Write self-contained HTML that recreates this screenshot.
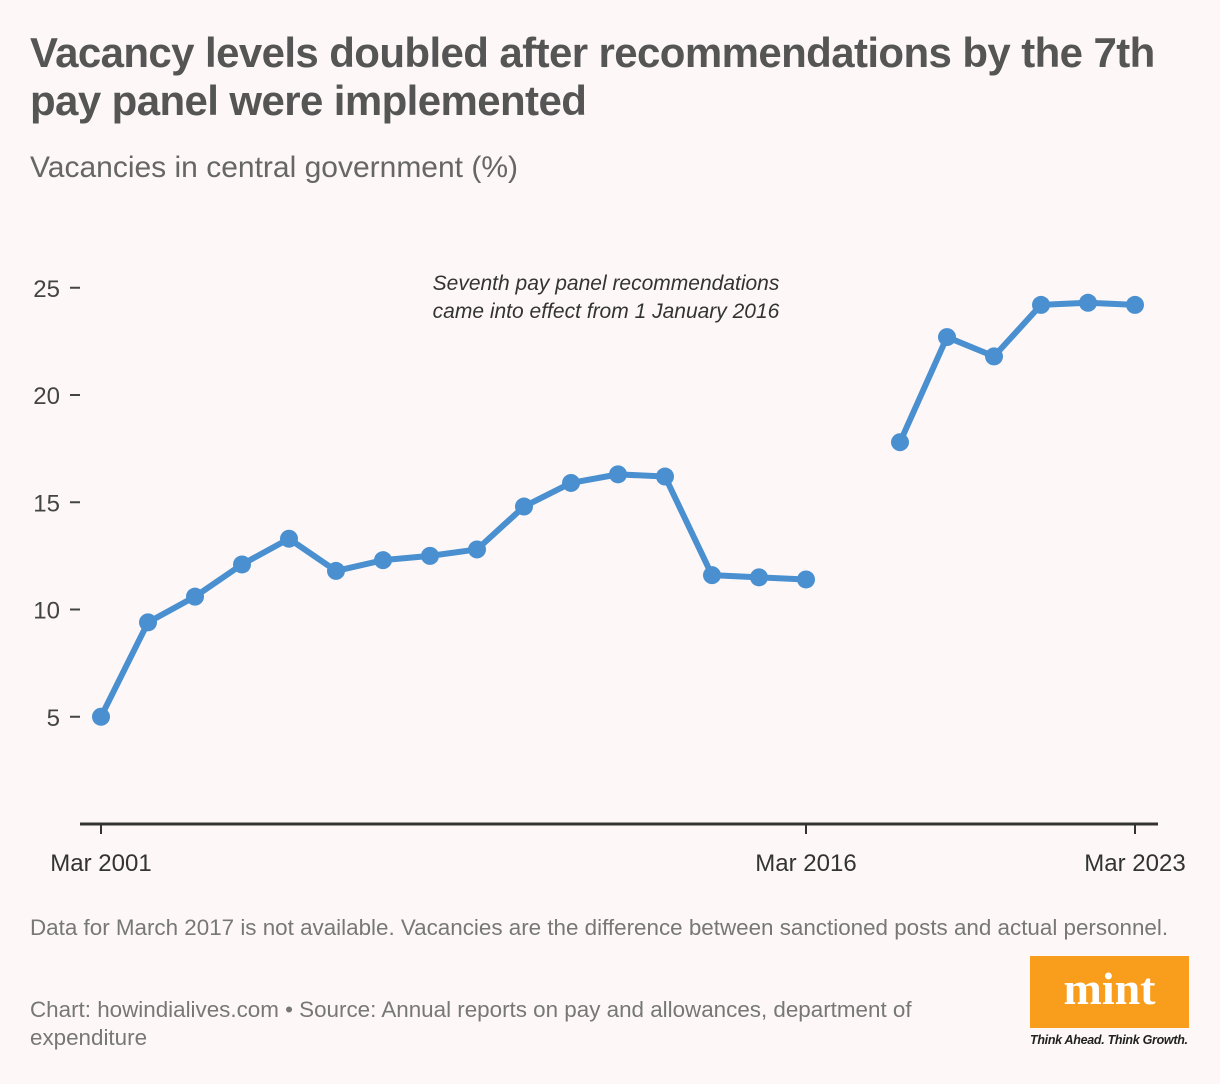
<!DOCTYPE html>
<html><head><meta charset="utf-8"><style>
body{margin:0;width:1220px;height:1084px;background:#fdf8f7;font-family:"Liberation Sans",sans-serif;position:relative;overflow:hidden}
.t{position:absolute;left:30px;top:29px;font-size:42px;font-weight:bold;color:#555;line-height:48px;letter-spacing:-0.6px;width:1170px}
.s{position:absolute;left:30px;top:151px;font-size:30px;color:#666}
.n{position:absolute;left:30px;top:915px;font-size:22.4px;color:#777}
.c{position:absolute;left:30px;top:996px;font-size:22.4px;color:#777;line-height:28px;width:910px}
</style></head><body>
<div class="t">Vacancy levels doubled after recommendations by the 7th pay panel were implemented</div>
<div class="s">Vacancies in central government (%)</div>
<svg id="ch" width="1220" height="900" style="position:absolute;left:0;top:0"></svg>
<div class="n">Data for March 2017 is not available. Vacancies are the difference between sanctioned posts and actual personnel.</div>
<div class="c">Chart: howindialives.com • Source: Annual reports on pay and allowances, department of expenditure</div>
<div style="position:absolute;left:1030px;top:956px;width:159px;height:72px;background:#f99d1c;color:#fff;font-family:'Liberation Serif',serif;font-weight:bold;font-size:46px;text-align:center;line-height:66px">mint</div>
<div style="position:absolute;left:1030px;top:1033px;font-size:12.5px;font-style:italic;font-weight:bold;color:#222;letter-spacing:-0.3px">Think Ahead. Think Growth.</div>
<script>
const years=[2001,2002,2003,2004,2005,2006,2007,2008,2009,2010,2011,2012,2013,2014,2015,2016,2017,2018,2019,2020,2021,2022,2023];
const values=[5.0,9.4,10.6,12.1,13.3,11.8,12.3,12.5,12.8,14.8,15.9,16.3,16.2,11.6,11.5,11.4,null,17.8,22.7,21.8,24.2,24.3,24.2];
const yTicks=[5,10,15,20,25];
const xTickYears=[2001,2016,2023];
const xTickLabels=["Mar 2001","Mar 2016","Mar 2023"];
const svg=document.getElementById('ch');const NS='http://www.w3.org/2000/svg';
const X=y=>101+(y-2001)*47;const Y=v=>824-v*21.45;
function mk(t,a,p){const e=document.createElementNS(NS,t);for(const k in a)e.setAttribute(k,a[k]);(p||svg).appendChild(e);return e;}
yTicks.forEach(v=>{
 const l=mk('line',{x1:70,x2:80,y1:Y(v),y2:Y(v),stroke:'#444','stroke-width':2});
 
 
 const t=mk('text',{x:60,y:Y(v)+9,'text-anchor':'end','font-size':24,fill:'#444','font-family':'Liberation Sans'});t.textContent=v;
 
 
});
const ax=mk('line',{x1:80,x2:1158,y1:824,y2:824,stroke:'#333','stroke-width':3});


xTickYears.forEach((yr,i)=>{
 mk('line',{x1:X(yr),x2:X(yr),y1:824,y2:834,stroke:'#333','stroke-width':2});
 const t=mk('text',{x:X(yr),y:871,'text-anchor':'middle','font-size':24,fill:'#333','font-family':'Liberation Sans'});t.textContent=xTickLabels[i];
 
 
});
let seg=[];const segs=[];
values.forEach((v,i)=>{if(v==null){if(seg.length)segs.push(seg);seg=[];}else seg.push([X(years[i]),Y(v)]);});
if(seg.length)segs.push(seg);
segs.forEach(s=>{const p=mk('polyline',{points:s.map(q=>q.join(',')).join(' '),fill:'none',stroke:'#4a8fd0','stroke-width':6,'stroke-linejoin':'round'});
 
 });
values.forEach((v,i)=>{if(v==null)return;const c=mk('circle',{cx:X(years[i]),cy:Y(v),r:9,fill:'#4a8fd0'});
 
 });
['Seventh pay panel recommendations','came into effect from 1 January 2016'].forEach((s,i)=>{
 const t=mk('text',{x:606,y:290+i*28,'text-anchor':'middle','font-size':21,'font-style':'italic',fill:'#333','font-family':'Liberation Sans'});t.textContent=s;
 
 
});
</script>
</body></html>
